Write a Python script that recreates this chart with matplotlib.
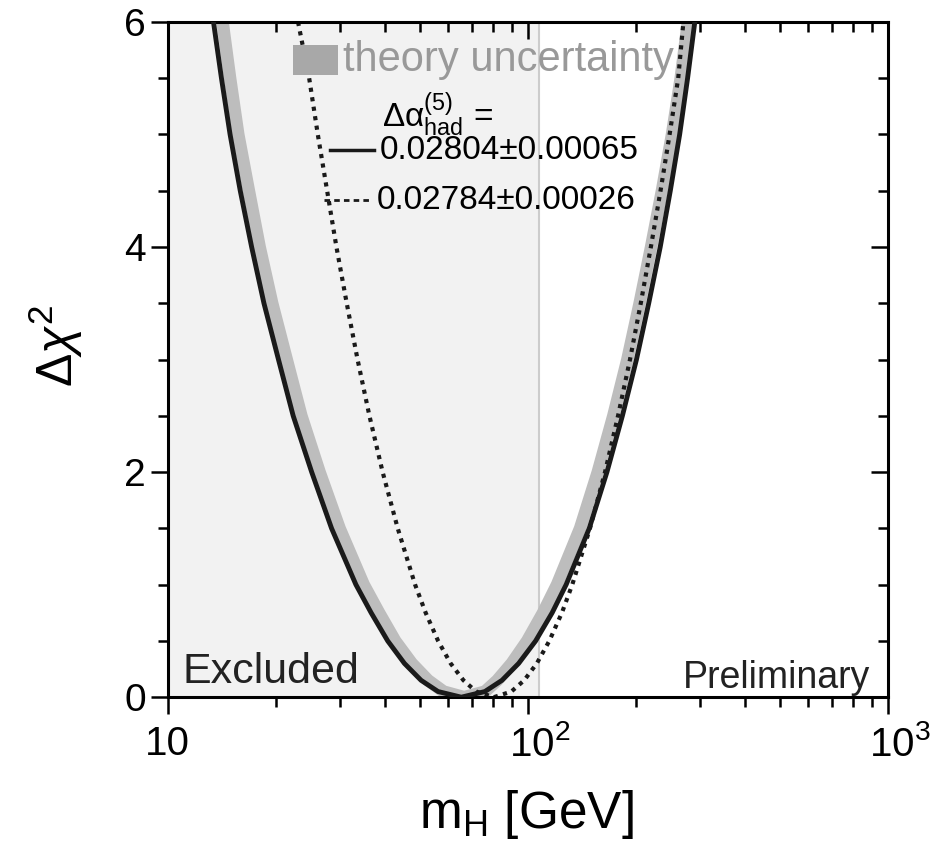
import matplotlib
matplotlib.use('Agg')
import matplotlib.pyplot as plt
from matplotlib.patches import Rectangle
from matplotlib.lines import Line2D
from matplotlib.transforms import ScaledTranslation

rcparams = {}
rcparams['font.family'] = 'Liberation Sans'
rcparams['mathtext.fontset'] = 'custom'
rcparams['mathtext.rm'] = 'Liberation Sans'
rcparams['mathtext.it'] = 'Liberation Sans:italic'
rcparams['mathtext.default'] = 'regular'
rcparams['font.size'] = 26
matplotlib.rcParams.update(rcparams)

# delta chi^2 levels at which the curves were read (left branch, min, right branch)
chi2_levels = [6, 5.5, 5, 4.5, 4, 3.5, 3, 2.5, 2, 1.5, 1, 0.75, 0.5, 0.3, 0.15, 0.05,
               0,
               0.05, 0.15, 0.3, 0.5, 0.75, 1, 1.5, 2, 2.5, 3, 3.5, 4, 4.5, 5, 5.5, 6]

# solid curve, delta alpha_had = 0.02804 +- 0.00065
solid_mh = [13.4, 14.1, 14.9, 15.9, 17.1, 18.5, 20.3, 22.3, 25.1, 28.5, 33.3, 36.7,
            40.8, 45.4, 50.5, 56.3,
            65.3,
            75.9, 84.7, 94.2, 105.0, 116.7, 127.6, 147.9, 165.6, 182.8, 200.0,
            216.3, 232.8, 248.3, 263.6, 277.3, 290.4]

# theory uncertainty band
band_mh = [14.2, 14.9, 15.7, 16.8, 18.0, 19.5, 21.4, 23.5, 26.4, 30.0, 35.0, 38.6,
           42.8, 47.6, 52.8, 58.3,
           66.5,
           76.0, 82.2, 90.1, 99.5, 110.1, 120.4, 139.5, 156.2, 172.5, 188.7,
           204.1, 219.6, 235.4, 251.0, 265.4, 277.9]

# dotted curve, delta alpha_had = 0.02784 +- 0.00026
dot_mh = [23.0, 24.7, 26.1, 27.7, 29.4, 31.4, 33.65, 36.3, 39.5, 43.5, 48.6, 52.0,
          56.3, 61.0, 66.2, 71.8,
          80.4,
          89.9, 97.6, 105.8, 114.6, 124.2, 132.7, 148.6, 163.6, 177.8, 191.9,
          205.6, 219.3, 233.3, 247.2, 261.2, 270.0]

excluded_limit = 107.0

fig = plt.figure(figsize=(9.42, 8.41), dpi=100)
ax = fig.add_axes([0.178, 0.171, 0.765, 0.803])

ax.axvspan(10, excluded_limit, color='#f2f2f2', lw=0, zorder=0)
ax.axvline(excluded_limit, color='#cccccc', lw=1.5, zorder=0.5)

ax.plot(band_mh, chi2_levels, color='#bdbdbd', lw=9, solid_capstyle='butt',
        solid_joinstyle='round', zorder=1)
ax.plot(solid_mh, chi2_levels, color='#1a1a1a', lw=3.5, solid_joinstyle='round', zorder=3)
ax.plot(dot_mh, chi2_levels, color='#1a1a1a', lw=3, linestyle=(0, (1, 1.3)), zorder=2)

ax.set_xscale('log')
ax.set_xlim(10, 1000)
ax.set_ylim(0, 6)
ax.set_xticks([10, 100, 1000])
ax.set_xticklabels(['10', '10$^2$', '10$^3$'])
ax.set_yticks([0, 2, 4, 6])
ax.set_yticks([0.5, 1, 1.5, 2.5, 3, 3.5, 4.5, 5, 5.5], minor=True)
ax.tick_params(which='both', direction='out', width=1.8, labelsize=28)
ax.tick_params(which='major', length=12)
ax.tick_params(which='minor', length=7)
ax.tick_params(axis='x', pad=8, labelsize=29)
for s in ax.spines.values():
    s.set_linewidth(2.2)

# centre the "10" of 10^2 and 10^3 under the tick
shift = ScaledTranslation(12 / 100, 0, fig.dpi_scale_trans)
for t in ax.xaxis.get_major_ticks()[1:]:
    t.label1.set_transform(t.label1.get_transform() + shift)

top = ax.secondary_xaxis('top')
top.tick_params(which='both', direction='in', width=1.8, labeltop=False)
top.tick_params(which='major', length=12)
top.tick_params(which='minor', length=7)
top.set_xticks([10, 100, 1000])
top.set_xticklabels([])
right = ax.secondary_yaxis('right')
right.set_yticks([0, 2, 4, 6])
right.set_yticks([0.5, 1, 1.5, 2.5, 3, 3.5, 4.5, 5, 5.5], minor=True)
right.tick_params(which='both', direction='in', width=1.8, labelright=False)
right.tick_params(which='major', length=12)
right.tick_params(which='minor', length=7)

ax.set_xlabel('m$_\\mathrm{H}$ [GeV]', fontsize=37)
ax.xaxis.set_label_coords(0.497, -0.135)
ax.set_ylabel('$\\Delta\\mathit{\\chi}^2$', fontsize=36)
ax.yaxis.set_label_coords(-0.115, 0.52)

# legend drawn by hand
ax.add_patch(Rectangle((0.174, 0.921), 0.062, 0.045, transform=ax.transAxes,
                       facecolor='#a8a8a8', edgecolor='none', zorder=5))
ax.text(0.243, 0.944, 'theory uncertainty', transform=ax.transAxes, color='#999999',
        fontsize=30, va='center', ha='left', zorder=5)
ax.text(0.297, 0.862, '$\\Delta\\alpha^{(5)}_{had}$ =', transform=ax.transAxes,
        fontsize=24, va='center', ha='left', zorder=5)
ax.add_line(Line2D([0.225, 0.286], [0.810, 0.810], transform=ax.transAxes,
                   color='#1a1a1a', lw=2.5, zorder=5))
ax.text(0.294, 0.810, '0.02804\u00b10.00065', transform=ax.transAxes,
        fontsize=24, va='center', ha='left', zorder=5)
ax.add_line(Line2D([0.217, 0.279], [0.736, 0.736], transform=ax.transAxes,
                   color='#1a1a1a', lw=2, linestyle=(0, (2, 1.5)), zorder=5))
ax.text(0.29, 0.736, '0.02784\u00b10.00026', transform=ax.transAxes,
        fontsize=24, va='center', ha='left', zorder=5)

ax.text(0.021, 0.037, 'Excluded', transform=ax.transAxes, fontsize=31,
        va='center', ha='left', color='#222222')
ax.text(0.975, 0.028, 'Preliminary', transform=ax.transAxes, fontsize=27,
        va='center', ha='right', color='#222222')

fig.savefig('out.png', dpi=100)
